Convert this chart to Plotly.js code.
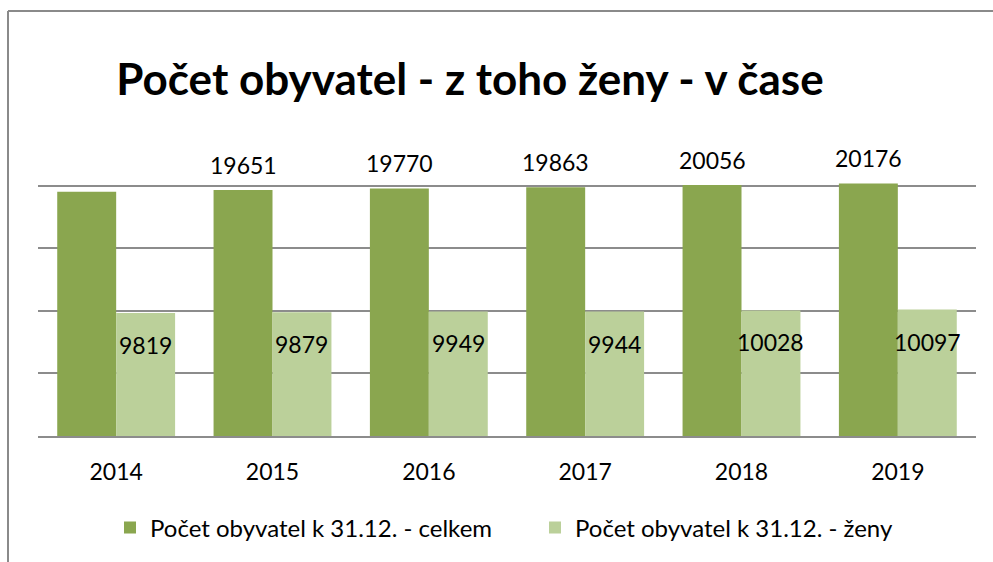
<!DOCTYPE html>
<html>
<head>
<meta charset="utf-8">
<script src="https://cdn.plot.ly/plotly-3.0.1.min.js"></script>
<style>html,body{margin:0;padding:0;background:#fff;}#chart{width:993px;height:562px;}</style>
</head>
<body>
<div id="chart"></div>
<script>
// Data
const years = ['2014', '2015', '2016', '2017', '2018', '2019'];
const totalValues = [19500, 19651, 19770, 19863, 20056, 20176];
const womenValues = [9819, 9879, 9949, 9944, 10028, 10097];
const totalLabelShown = [false, true, true, true, true, true];
const seriesNames = ['Počet obyvatel k 31.12. - celkem', 'Počet obyvatel k 31.12. - ženy'];
const titleText = 'Počet obyvatel - z toho ženy - v čase';

const darkGreen = '#8aa64f';
const lightGreen = '#bbd09a';
const gridColor = '#8c8c8c';
const fontFam = 'Lato, "Open Sans", sans-serif';

const traces = [
  {type: 'bar', x: years, y: totalValues, name: seriesNames[0], marker: {color: darkGreen}, hoverinfo: 'x+y'},
  {type: 'bar', x: years, y: womenValues, name: seriesNames[1], marker: {color: lightGreen}, hoverinfo: 'x+y'}
];

const W = 993, H = 562;
const mL = 38, mR = 17, mT = 123, mB = 126;
const pw = W - mL - mR, ph = H - mT - mB;
const px2x = X => (X - mL) / pw;
const py2y = Y => (H - mB - Y) / ph;

const bargap = 0.246;
const barPx = (pw / years.length) * (1 - bargap) / 2;

const annotations = [];
years.forEach((yr, i) => {
  if (totalLabelShown[i]) {
    annotations.push({x: i, y: totalValues[i], xref: 'x', yref: 'y', text: String(totalValues[i]),
      showarrow: false, xshift: -barPx / 2, yshift: 25, yanchor: 'middle', xanchor: 'center',
      font: {family: fontFam, size: 23, color: '#000'}});
  }
  annotations.push({x: i, y: womenValues[i], xref: 'x', yref: 'y', text: String(womenValues[i]),
    showarrow: false, xshift: barPx / 2, yshift: -32, yanchor: 'middle', xanchor: 'center',
    font: {family: fontFam, size: 23, color: '#000'}});
});

const layout = {
  width: W, height: H,
  margin: {l: mL, r: mR, t: mT, b: mB, pad: 0, autoexpand: false},
  paper_bgcolor: '#fff', plot_bgcolor: '#fff',
  font: {family: fontFam, size: 23, color: '#000'},
  title: {text: '<b>' + titleText + '</b>', font: {family: fontFam, size: 44, color: '#000'},
    x: 470 / W, xanchor: 'center', xref: 'container', y: 1 - 80 / H, yanchor: 'middle', yref: 'container'},
  barmode: 'group', bargap: bargap, bargroupgap: 0,
  xaxis: {type: 'category', range: [-0.5, years.length - 0.5], autorange: false, showgrid: false,
    showline: true, linecolor: gridColor, linewidth: 2,
    ticks: '', ticklabelstandoff: 14, tickfont: {family: fontFam, size: 23, color: '#000'}, fixedrange: true},
  yaxis: {range: [0, 25000], autorange: false, dtick: 5000, tick0: 0, showgrid: true, gridcolor: gridColor, gridwidth: 2,
    zeroline: false, showticklabels: false, ticks: '', fixedrange: true},
  showlegend: true,
  legend: {orientation: 'h', x: px2x(110), xanchor: 'left', y: py2y(528), yanchor: 'middle',
    font: {family: fontFam, size: 24, color: '#000'}, entrywidth: 380, entrywidthmode: 'pixels',
    itemsizing: 'constant', bgcolor: 'rgba(0,0,0,0)', traceorder: 'normal'},
  annotations: annotations,
  shapes: [
    {type: 'line', xref: 'paper', yref: 'paper', x0: px2x(8), x1: px2x(1000), y0: py2y(11), y1: py2y(11), line: {color: '#8a8a8a', width: 2}},
    {type: 'line', xref: 'paper', yref: 'paper', x0: px2x(8), x1: px2x(8), y0: py2y(11), y1: py2y(570), line: {color: '#8a8a8a', width: 2}}
  ]
};

Plotly.newPlot('chart', traces, layout, {displayModeBar: false, staticPlot: true});
</script>
</body>
</html>
